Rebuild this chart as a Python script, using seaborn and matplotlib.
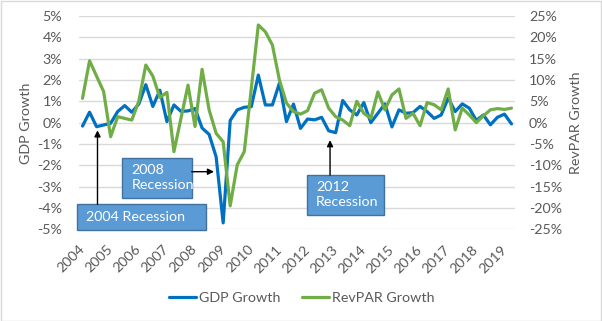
import matplotlib
matplotlib.use("Agg")
import matplotlib.pyplot as plt
import seaborn as sns
import numpy as np
import pandas as pd
from matplotlib.patches import Rectangle
from matplotlib.ticker import FuncFormatter, FixedLocator

# ---- data -------------------------------------------------------------
year_labels = [str(y) for y in range(2004, 2020)]
gdp_growth = [-0.16, 0.49, -0.19, -0.11, -0.03, 0.52, 0.80, 0.49, 0.87, 1.78,
              0.76, 1.52, 0.05, 0.83, 0.53, 0.55, 0.66, -0.25, -0.55, -1.60,
              -4.70, 0.10, 0.60, 0.72, 0.75, 2.23, 0.83, 0.83, 1.85, 0.05,
              0.87, -0.27, 0.17, 0.13, 0.25, -0.38, -0.47, 1.04, 0.60, 0.36,
              0.94, 0.00, 0.44, 0.88, -0.20, 0.60, 0.44, 0.47, 0.76, 0.52,
              0.20, 0.36, 1.15, 0.52, 0.88, 0.68, 0.10, 0.36, -0.10, 0.25,
              0.40, -0.06]
revpar_growth = [5.7, 14.5, 10.9, 7.3, -3.3, 1.4, 1.0, 0.6, 5.0, 13.5,
                 10.9, 5.9, 7.1, -6.8, 1.0, 8.8, -0.9, 12.5, 3.0, -2.5,
                 -4.5, -19.5, -9.9, -6.8, 8.0, 22.9, 21.3, 18.2, 10.0, 4.6,
                 2.6, 2.0, 2.8, 6.9, 7.7, 3.4, 1.4, 0.6, -0.7, 5.0,
                 2.2, 1.0, 7.2, 3.0, 6.5, 7.9, 1.0, 2.2, -0.7, 4.7,
                 4.2, 3.0, 7.9, -1.7, 3.4, 1.8, 0.0, 1.6, 3.0, 3.3,
                 3.1, 3.4]
gdp_ticks = list(range(-5, 6))
revpar_ticks = list(range(-25, 30, 5))

df = pd.DataFrame({"q": np.arange(len(gdp_growth)),
                   "gdp": gdp_growth, "revpar": revpar_growth})

# ---- style ------------------------------------------------------------
sns.set_style("white")
plt.rcParams["font.family"] = ["Lato", "DejaVu Sans"]
plt.rcParams["axes.unicode_minus"] = False
FS = 10.3
TXT = "#595959"
BLUE = "#0070C0"
GREEN = "#70AD47"

W, H = 602, 321
fig = plt.figure(figsize=(W / 100, H / 100), dpi=100)
fig.patch.set_facecolor("white")
fig.patches.append(Rectangle((0.5 / W, 0.5 / H), 1 - 1.5 / W, 1 - 1.5 / H,
                             transform=fig.transFigure, fill=False,
                             edgecolor="#D9D9D9", lw=1))

ax = fig.add_axes([79 / W, 1 - 229.3 / H, 436 / W, (229.3 - 16) / H])
ax2 = ax.twinx()

sns.lineplot(data=df, x="q", y="gdp", ax=ax, color=BLUE, lw=2.3,
             label="GDP Growth", legend=False)
sns.lineplot(data=df, x="q", y="revpar", ax=ax2, color=GREEN, lw=2.3,
             label="RevPAR Growth", legend=False)

n = len(gdp_growth)
ax.set_xlim(-0.5, n - 0.5)
ax.set_ylim(-5, 5)
ax2.set_ylim(-25, 25)

ax.yaxis.set_major_locator(FixedLocator(gdp_ticks))
ax2.yaxis.set_major_locator(FixedLocator(revpar_ticks))
ax.yaxis.set_major_formatter(FuncFormatter(lambda v, p: f"{v:.0f}%"))
ax2.yaxis.set_major_formatter(FuncFormatter(lambda v, p: f"{v:.0f}%"))

ax.set_xticks(np.arange(0, n, 4))
ax.set_xticklabels(year_labels[:len(np.arange(0, n, 4))], rotation=45,
                   ha="right", va="center", rotation_mode="anchor")

ax.grid(axis="y", color="#D9D9D9", lw=1)
ax.grid(axis="x", visible=False)
ax2.grid(False)
for a in (ax, ax2):
    for s in a.spines.values():
        s.set_visible(False)
    a.set_xlabel("")
    a.set_ylabel("")
ax.tick_params(axis="y", length=0, pad=12, labelsize=FS, labelcolor=TXT)
ax2.tick_params(axis="y", length=0, pad=10, labelsize=FS, labelcolor=TXT)
ax.tick_params(axis="x", length=0, pad=13, labelsize=FS, labelcolor=TXT)

fig.text(26 / W, 1 - 123 / H, "GDP Growth", rotation=90, ha="center",
         va="center", fontsize=FS, color=TXT)
fig.text(576 / W, 1 - 123 / H, "RevPAR Growth", rotation=90, ha="center",
         va="center", fontsize=FS, color=TXT)

# ---- annotations ------------------------------------------------------
BOXF = "#5B9BD5"
BOXE = "#41719C"

def box(x0, x1, y0, y1):
    ax.add_patch(Rectangle((x0, y0), x1 - x0, y1 - y0, facecolor=BOXF,
                           edgecolor=BOXE, lw=1, clip_on=False, zorder=5))

def arrow(xs, ys, xt, yt):
    ax.annotate("", xy=(xt, yt), xytext=(xs, ys),
                arrowprops=dict(arrowstyle="-|>", color="black", lw=1,
                                mutation_scale=9, shrinkA=0, shrinkB=0),
                annotation_clip=False, zorder=6)

box(-0.83, 17.5, -5.04, -3.83)
ax.text(0.54, -4.42, "2004 Recession", color="white", fontsize=FS,
        ha="left", va="center", zorder=7)
arrow(2.13, -3.83, 2.13, -0.36)

box(5.66, 15.53, -3.55, -1.67)
ax.text(7.0, -2.58, "2008\nRecession", color="white", fontsize=FS,
        ha="left", va="center", linespacing=1.3, zorder=7)
arrow(15.53, -2.3, 18.7, -2.3)

box(31.9, 42.9, -4.33, -2.46)
ax.text(33.2, -3.38, "2012\nRecession", color="white", fontsize=FS,
        ha="left", va="center", linespacing=1.3, zorder=7)
arrow(35.2, -2.46, 35.2, -0.82)

# ---- legend -----------------------------------------------------------
h1, l1 = ax.get_legend_handles_labels()
h2, l2 = ax2.get_legend_handles_labels()
leg = fig.legend(h1 + h2, l1 + l2, loc="center", ncol=2, frameon=False,
                 bbox_to_anchor=(302 / W, 1 - 298 / H), fontsize=FS,
                 handlelength=1.9, columnspacing=1.5, handletextpad=0.2)
for t in leg.get_texts():
    t.set_color(TXT)

fig.savefig("out.png", dpi=100)
